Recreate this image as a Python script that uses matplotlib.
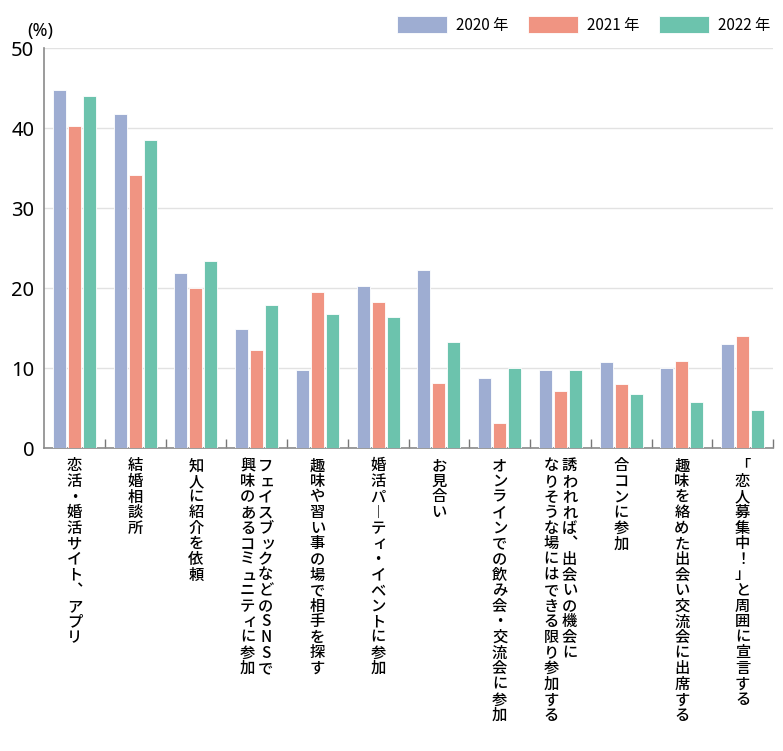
import matplotlib
matplotlib.use("Agg")
import matplotlib.pyplot as plt
import numpy as np

plt.rcParams['font.family'] = ['Noto Sans CJK JP', 'DejaVu Sans']

# data
categories = [
    ["恋活・婚活サイト、アプリ"],
    ["結婚相談所"],
    ["知人に紹介を依頼"],
    ["フェイスブックなどのSNSで", "興味のあるコミュニティに参加"],
    ["趣味や習い事の場で相手を探す"],
    ["婚活パーティ・イベントに参加"],
    ["お見合い"],
    ["オンラインでの飲み会・交流会に参加"],
    ["誘われれば、出会いの機会に", "なりそうな場にはできる限り参加する"],
    ["合コンに参加"],
    ["趣味を絡めた出会い交流会に出席する"],
    ["「恋人募集中！」と周囲に宣言する"],
]
years = ["2020 年", "2021 年", "2022 年"]
v2020 = [44.7, 41.7, 21.9, 14.9, 9.7, 20.2, 22.2, 8.7, 9.7, 10.8, 10.0, 13.0]
v2021 = [40.2, 34.1, 20.0, 12.2, 19.5, 18.3, 8.1, 3.1, 7.1, 8.0, 10.9, 14.0]
v2022 = [44.0, 38.5, 23.4, 17.9, 16.7, 16.4, 13.3, 10.0, 9.8, 6.8, 5.8, 4.7]
colors = ["#9eadd2", "#f09482", "#6cc3ad"]

# glyphs that need a vertical form when written top-to-bottom
vert_map = {"ー": "︱", "、": "︑"}
small_kana = set("ィッュョャぁぃぅぇぉっゃゅょァゥェォ")

fig = plt.figure(figsize=(7.83, 7.51), dpi=100)
ax = fig.add_axes([44 / 783, 1 - 448 / 751, 729 / 783, 400 / 751])

x = np.arange(len(categories))
w = 0.214
off = 0.247
handles = []
for k, vals in enumerate([v2020, v2021, v2022]):
    b = ax.bar(x + (k - 1) * off, vals, width=w, color=colors[k],
               edgecolor="white", linewidth=0.6, zorder=3, label=years[k])
    handles.append(b)

ax.set_xlim(-0.5, len(categories) - 0.5)
ax.set_ylim(0, 50)
ax.set_yticks([0, 10, 20, 30, 40, 50])
ax.tick_params(axis="y", length=0, pad=7, labelsize=14.5, labelfontfamily="Noto Sans")
ax.yaxis.grid(True, color="#e2e2e2", linewidth=1, zorder=0)
ax.set_axisbelow(True)

ax.set_xticks(x + 0.5)
ax.set_xticklabels([])
ax.tick_params(axis="x", direction="in", length=6.5, width=1, color="#777777")

for s in ["top", "right"]:
    ax.spines[s].set_visible(False)
ax.spines["left"].set_color("#8a8a8a")
ax.spines["bottom"].set_color("#8a8a8a")
ax.spines["left"].set_linewidth(1.2)
ax.spines["bottom"].set_linewidth(1.2)

# vertical (tategaki) labels, one character at a time
step = 15.6 * 0.72   # points per character
for i, cols in enumerate(categories):
    n = len(cols)
    for c, text in enumerate(cols):
        # columns read right to left
        dx = (n - 1) * 6.5 - c * 13.0
        for j, ch in enumerate(text):
            dy = -(10 + 7.8) * 0.72 - j * step
            ddx = 1.5 if ch in small_kana else 0
            glyph = vert_map.get(ch, ch)
            ax.annotate(glyph, xy=(i, 0), xycoords=("data", "axes fraction"),
                        xytext=(dx + ddx, dy), textcoords="offset points",
                        ha="center", va="center", fontsize=11, fontweight="medium",
                        annotation_clip=False)

fig.text(27 / 783, 1 - 31 / 751, "(%)", fontsize=13, va="center", ha="left",
         family="Noto Sans")

fig.legend(handles=handles, labels=years, loc="center right",
           bbox_to_anchor=(770 / 783, 1 - 25 / 751), ncol=3, frameon=False,
           fontsize=11, handlelength=3.3, handleheight=1.35, handletextpad=0.55,
           columnspacing=1.3, borderpad=0, borderaxespad=0)

fig.savefig("out.png", dpi=100)
